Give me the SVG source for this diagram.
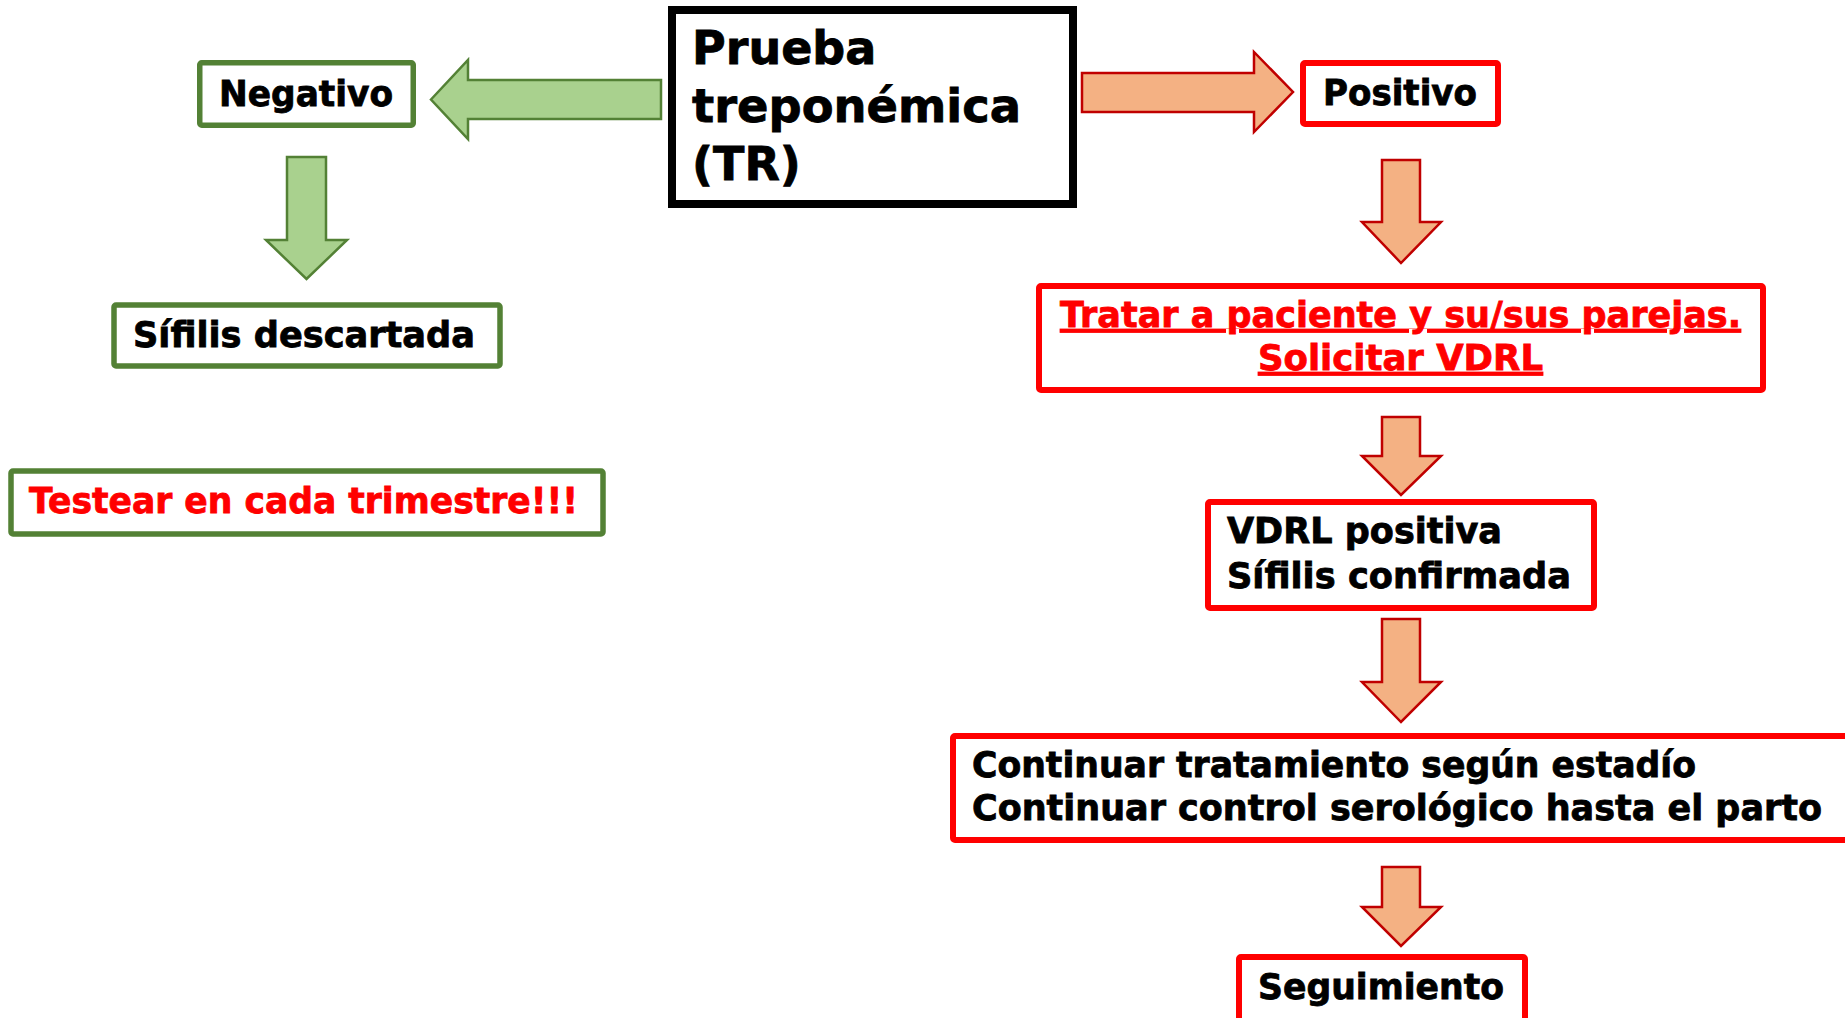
<svg xmlns="http://www.w3.org/2000/svg" width="1845" height="1018" viewBox="0 0 1845 1018">
<style>
.t{font-family:"DejaVu Sans","Liberation Sans",sans-serif;font-weight:bold;font-size:35px;fill:#000;stroke:#000;stroke-width:0.8}
.r{fill:#FF0000;stroke:#FF0000}
.gb{fill:#fff;stroke:#538135;stroke-width:5.5}
.rb{fill:#fff;stroke:#FF0000;stroke-width:6}
.ga{fill:#A9D18E;stroke:#538135;stroke-width:2.5;stroke-linejoin:miter}
.oa{fill:#F4B183;stroke:#C00000;stroke-width:2.5;stroke-linejoin:miter}
</style>
<rect width="1845" height="1018" fill="#fff"/>
<g id="connectors">
<polygon class="ga" points="431,99.5 468,60 468,80 661,80 661,119 468,119 468,139"/>
<polygon class="ga" points="287,157 326,157 326,240 347,240 306.5,279 266,240 287,240"/>
<polygon class="oa" points="1082,73 1254,73 1254,52 1293,92 1254,132 1254,112 1082,112"/>
<polygon class="oa" points="1382,160 1420,160 1420,222 1441,222 1401,263 1362,222 1382,222"/>
<polygon class="oa" points="1382,417 1420,417 1420,456 1441,456 1401,495 1362,456 1382,456"/>
<polygon class="oa" points="1382,619 1420,619 1420,682 1441,682 1401,722 1362,682 1382,682"/>
<polygon class="oa" points="1382,867 1420,867 1420,907 1441,907 1401,946 1362,907 1382,907"/>
</g>
<g id="prueba">
<rect x="672" y="10" width="401" height="194" fill="#fff" stroke="#000" stroke-width="8"/>
<text class="t" style="font-size:46px" x="692" y="64">Prueba</text>
<text class="t" style="font-size:46px" x="692" y="122" textLength="329" lengthAdjust="spacingAndGlyphs">treponémica</text>
<text class="t" style="font-size:46px" x="692" y="180">(TR)</text>
</g>
<g id="negativo">
<rect class="gb" x="199.75" y="62.75" width="213.5" height="62.5" rx="2"/>
<text class="t" x="306" y="106" text-anchor="middle" textLength="174" lengthAdjust="spacingAndGlyphs">Negativo</text>
</g>
<g id="descartada">
<rect class="gb" x="114" y="305" width="386" height="61" rx="2"/>
<text class="t" x="133" y="347" textLength="342" lengthAdjust="spacingAndGlyphs">Sífilis descartada</text>
</g>
<g id="testear">
<rect class="gb" x="11" y="471" width="592" height="63" rx="2"/>
<text class="t r" x="29" y="513" textLength="549" lengthAdjust="spacingAndGlyphs">Testear en cada trimestre!!!</text>
</g>
<g id="positivo">
<rect class="rb" x="1303" y="63" width="195" height="61" rx="2"/>
<text class="t" x="1400" y="105" text-anchor="middle" textLength="154" lengthAdjust="spacingAndGlyphs">Positivo</text>
</g>
<g id="tratar">
<rect class="rb" x="1039" y="286" width="724" height="104" rx="2"/>
<text class="t r" x="1060" y="327" textLength="681" lengthAdjust="spacingAndGlyphs" text-decoration="underline">Tratar a paciente y su/sus parejas.</text>
<text class="t r" x="1258" y="370" textLength="285" lengthAdjust="spacingAndGlyphs" text-decoration="underline">Solicitar VDRL</text>
</g>
<g id="vdrl">
<rect class="rb" x="1208" y="502" width="386" height="106" rx="2"/>
<text class="t" x="1227" y="543" textLength="275" lengthAdjust="spacingAndGlyphs">VDRL positiva</text>
<text class="t" x="1227" y="588" textLength="344" lengthAdjust="spacingAndGlyphs">Sífilis confirmada</text>
</g>
<g id="continuar">
<rect class="rb" x="953" y="736" width="1000" height="104" rx="2"/>
<text class="t" x="972" y="777" textLength="724" lengthAdjust="spacingAndGlyphs">Continuar tratamiento según estadío</text>
<text class="t" x="972" y="820" textLength="850" lengthAdjust="spacingAndGlyphs">Continuar control serológico hasta el parto</text>
</g>
<g id="seguimiento">
<rect class="rb" x="1239" y="957" width="286" height="100" rx="2"/>
<text class="t" x="1258" y="999" textLength="246" lengthAdjust="spacingAndGlyphs">Seguimiento</text>
</g>
</svg>
